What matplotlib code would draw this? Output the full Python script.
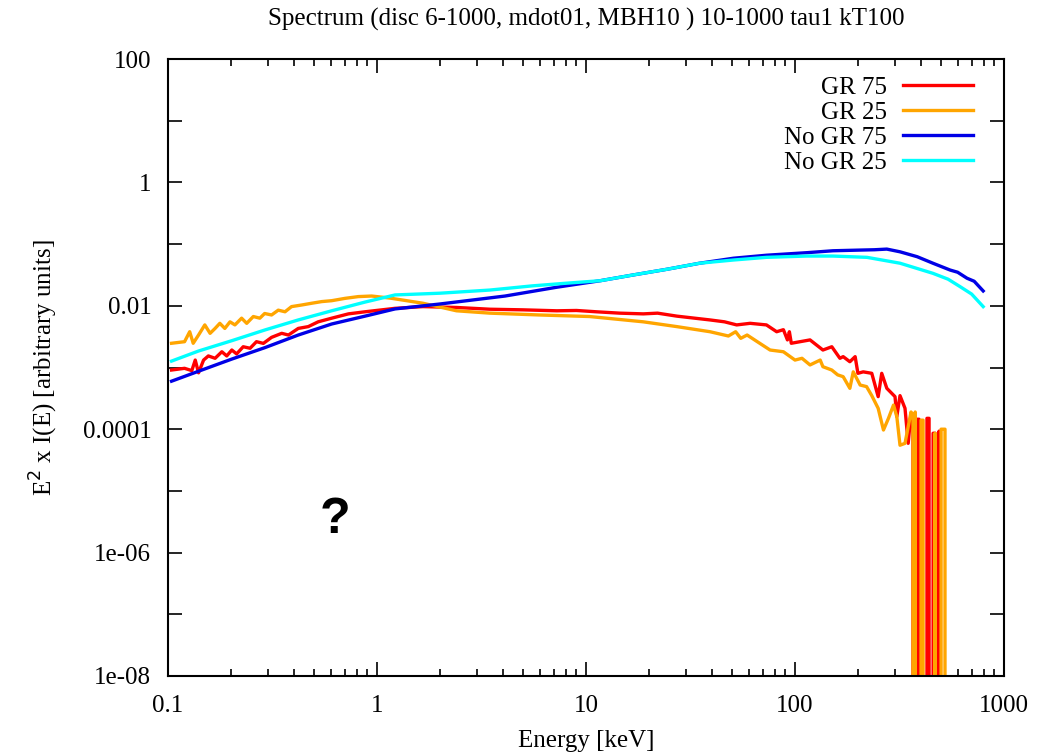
import matplotlib
matplotlib.use("Agg")
import matplotlib.pyplot as plt
from matplotlib.ticker import LogLocator, NullFormatter

plt.rcParams['font.family'] = ['Liberation Serif', 'DejaVu Serif']

# GR 75 (red)
gr75_e = [0.104, 0.120, 0.130, 0.135, 0.140, 0.148, 0.156, 0.168, 0.181, 0.191,
          0.202, 0.213, 0.229, 0.247, 0.265, 0.286, 0.313, 0.350, 0.377, 0.42,
          0.469, 0.523, 0.607, 0.73, 0.877, 1.22, 1.66, 2.4, 3.47, 5.0,
          7.25, 9.0, 11.2, 14.5, 18.8, 22.0, 27.2, 39.2, 46.0, 52.6,
          61.0, 73.0, 81.7, 88.0, 92.0, 94.0, 96.0, 118.0, 136.0, 150.0,
          164.0, 170.0, 183.0, 194.0, 200.0, 212.0, 233.0, 250.0, 260.0, 275.0,
          301.0, 307.0, 318.0, 336.0, 348.0, 359.0, 367.0, 376.0, 384.0, 392.0,
          401.0, 410.0, 419.0, 428.0, 438.0, 448.0, 458.0, 468.0, 478.0, 489.0,
          500.0]
gr75_y = [9.1e-4, 9.7e-4, 8.9e-4, 1.32e-3, 8.2e-4, 1.32e-3, 1.54e-3, 1.41e-3, 1.80e-3, 1.54e-3,
          1.92e-3, 1.66e-3, 2.17e-3, 2.05e-3, 2.62e-3, 2.46e-3, 3.08e-3, 3.58e-3, 3.36e-3, 4.3e-3,
          4.6e-3, 5.5e-3, 6.3e-3, 7.4e-3, 8.0e-3, 9.1e-3, 9.7e-3, 9.4e-3, 8.8e-3, 8.6e-3,
          8.3e-3, 8.4e-3, 8.0e-3, 7.6e-3, 7.4e-3, 7.6e-3, 6.8e-3, 5.9e-3, 5.5e-3, 4.9e-3,
          5.2e-3, 4.9e-3, 3.8e-3, 4.1e-3, 2.8e-3, 3.8e-3, 2.47e-3, 2.8e-3, 1.92e-3, 2.17e-3,
          1.41e-3, 1.5e-3, 1.24e-3, 1.5e-3, 8.05e-4, 8.5e-4, 8.05e-4, 3.37e-4, 8.05e-4, 4.6e-4,
          3.37e-4, 1.6e-4, 3.5e-4, 2.18e-4, 5.9e-5, 1.83e-4, 1.6e-4, 0.0, 1.45e-4, 1.45e-4,
          0.0, 0.0, 0.0, 1.5e-4, 1.5e-4, 0.0, 8.6e-5, 8.6e-5, 0.0, 9.3e-5,
          0.0]

# GR 25 (orange)
gr25_e = [0.104, 0.120, 0.127, 0.132, 0.140, 0.150, 0.159, 0.168, 0.177, 0.187,
          0.198, 0.209, 0.225, 0.238, 0.256, 0.275, 0.29, 0.313, 0.337, 0.363,
          0.39, 0.436, 0.487, 0.544, 0.607, 0.703, 0.814, 0.943, 1.16, 1.66,
          2.4, 3.47, 6.0, 10.4, 14.5, 18.8, 27.2, 39.2, 48.0, 52.0,
          55.0, 59.0, 66.0, 76.0, 88.0, 100.0, 108.0, 118.0, 132.0, 136.0,
          150.0, 160.0, 170.0, 183.0, 190.0, 205.0, 220.0, 233.0, 250.0, 265.0,
          280.0, 296.0, 307.0, 318.0, 336.0, 359.0, 367.0, 371.0, 376.0, 384.0,
          392.0, 401.0, 410.0, 419.0, 458.0, 468.0, 478.0, 500.0, 511.0, 522.0,
          534.0]
gr25_y = [2.47e-3, 2.62e-3, 3.8e-3, 2.47e-3, 3.36e-3, 4.9e-3, 3.58e-3, 4.3e-3, 5.2e-3, 4.3e-3,
          5.5e-3, 4.9e-3, 6.3e-3, 5.2e-3, 6.7e-3, 6.3e-3, 7.5e-3, 7.1e-3, 8.5e-3, 8.0e-3,
          9.7e-3, 1.03e-2, 1.1e-2, 1.17e-2, 1.21e-2, 1.32e-2, 1.41e-2, 1.44e-2, 1.33e-2, 1.1e-2,
          8.3e-3, 7.6e-3, 7.1e-3, 6.7e-3, 6.0e-3, 5.5e-3, 4.6e-3, 3.8e-3, 3.24e-3, 3.8e-3,
          2.97e-3, 3.36e-3, 2.62e-3, 1.92e-3, 1.8e-3, 1.32e-3, 1.41e-3, 1.1e-3, 1.32e-3, 1.03e-3,
          9.1e-4, 7.6e-4, 7.1e-4, 4.6e-4, 8.5e-4, 5.2e-4, 4.9e-4, 3.5e-4, 2.18e-4, 9.7e-5,
          1.5e-4, 2.46e-4, 1.6e-4, 5.5e-5, 5.9e-5, 1.9e-4, 1.7e-4, 0.0, 1.9e-4, 0.0,
          0.0, 1.4e-4, 1.4e-4, 0.0, 0.0, 8.6e-5, 0.0, 1.0e-4, 1.0e-4, 1.0e-4,
          0.0]

# No GR 75 (blue)
nogr75_e = [0.104, 0.14, 0.202, 0.291, 0.42, 0.607, 0.877, 1.22, 2.0, 4.1,
            7.25, 11.7, 16.8, 24.3, 35.0, 50.7, 73.0, 114.0, 152.0, 205.0,
            240.0, 275.0, 318.0, 384.0, 457.0, 552.0, 600.0, 665.0, 720.0, 795.0]
nogr75_y = [6.0e-4, 8.7e-4, 1.37e-3, 2.1e-3, 3.36e-3, 5.07e-3, 6.8e-3, 8.9e-3, 1.07e-2, 1.44e-2,
            2.0e-2, 2.55e-2, 3.16e-2, 3.9e-2, 4.9e-2, 5.9e-2, 6.6e-2, 7.26e-2, 7.8e-2, 8.0e-2,
            8.1e-2, 8.3e-2, 7.5e-2, 6.25e-2, 4.9e-2, 3.8e-2, 3.5e-2, 2.8e-2, 2.5e-2, 1.74e-2]

# No GR 25 (cyan)
nogr25_e = [0.104, 0.14, 0.202, 0.291, 0.42, 0.607, 0.877, 1.22, 2.0, 3.47,
            5.5, 8.0, 11.7, 16.8, 24.3, 35.0, 50.7, 73.0, 114.0, 152.0,
            221.0, 318.0, 457.0, 540.0, 617.0, 700.0, 795.0]
nogr25_y = [1.27e-3, 1.85e-3, 2.72e-3, 4.06e-3, 5.9e-3, 8.3e-3, 1.15e-2, 1.5e-2, 1.6e-2, 1.8e-2,
            2.1e-2, 2.32e-2, 2.55e-2, 3.16e-2, 3.9e-2, 4.9e-2, 5.52e-2, 6.1e-2, 6.4e-2, 6.4e-2,
            6.1e-2, 4.9e-2, 3.36e-2, 2.7e-2, 2.04e-2, 1.55e-2, 9.7e-3]

xticks = [0.1, 1, 10, 100, 1000]
xlabels = ['0.1', '1', '10', '100', '1000']
yticks = [1e-8, 1e-7, 1e-6, 1e-5, 1e-4, 1e-3, 1e-2, 1e-1, 1, 10, 100]
ylabels = ['1e-08', '', '1e-06', '', '0.0001', '', '0.01', '', '1', '', '100']

fig = plt.figure(figsize=(10.59, 7.56), dpi=100)
ax = fig.add_axes([168 / 1059, 1 - 676 / 756, 836 / 1059, 617 / 756])

lw = 2.4
ax.plot(gr75_e, gr75_y, color='#ff0000', lw=lw, label='GR 75')
ax.plot(gr25_e, gr25_y, color='#ffa500', lw=lw, label='GR 25')
ax.plot(nogr75_e, nogr75_y, color='#0000e6', lw=lw, label='No GR 75')
ax.plot(nogr25_e, nogr25_y, color='#00ffff', lw=lw, label='No GR 25')

ax.set_xscale('log')
ax.set_yscale('log', nonpositive='clip')
ax.set_xlim(0.1, 1000)
ax.set_ylim(1e-8, 100)

ax.set_xticks(xticks)
ax.set_xticklabels(xlabels)
ax.xaxis.set_minor_locator(LogLocator(base=10, subs=range(2, 10), numticks=20))
ax.xaxis.set_minor_formatter(NullFormatter())
ax.set_yticks(yticks)
ax.set_yticklabels(ylabels)
ax.yaxis.set_minor_locator(LogLocator(base=10, subs=[], numticks=20))

ax.tick_params(which='both', direction='in', top=True, right=True, labelsize=18, width=1.2)
ax.tick_params(which='major', length=10)
ax.tick_params(which='minor', length=5)
ax.tick_params(axis='x', pad=14)
ax.tick_params(axis='y', pad=12)
for s in ax.spines.values():
    s.set_linewidth(1.5)

ax.set_title('Spectrum (disc 6-1000, mdot01, MBH10 ) 10-1000 tau1 kT100', fontsize=18, pad=24)
ax.set_xlabel('Energy [keV]', fontsize=18, labelpad=9)
ax.set_ylabel(r'E$^2$ x I(E) [arbitrary units]', fontsize=18, labelpad=16)

ax.text(0.63, 3.4e-6, '?', fontsize=36, fontweight='bold', family='Liberation Sans',
        ha='center', va='center')

leg = ax.legend(loc='upper right', frameon=False, markerfirst=False, fontsize=18,
                handlelength=2.8, labelspacing=0.1, handletextpad=0.64,
                borderaxespad=0.0, bbox_to_anchor=(0.975, 0.988))

fig.savefig('out.png', dpi=100)
